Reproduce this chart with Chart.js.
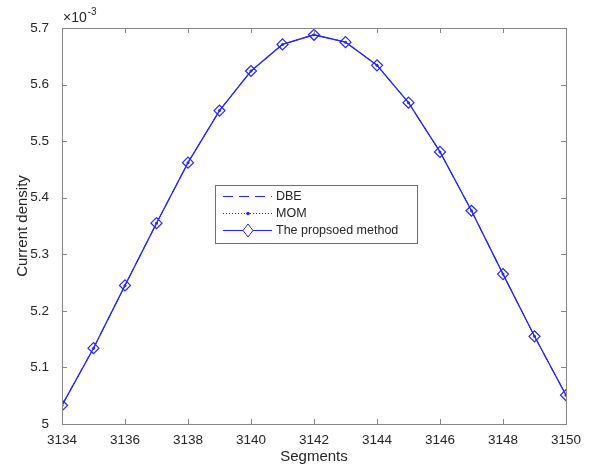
<!DOCTYPE html>
<html>
<head>
<meta charset="utf-8">
<script src="https://cdn.jsdelivr.net/npm/chart.js@4"></script>
<style>
  html, body { margin: 0; padding: 0; background: #fff; }
  #wrap { width: 591px; height: 466px; }
</style>
</head>
<body>
<div id="wrap"><canvas id="chart-current"></canvas></div>
<script>
// segments along the x axis
const segments = [3134, 3135, 3136, 3137, 3138, 3139, 3140, 3141, 3142,
                  3143, 3144, 3145, 3146, 3147, 3148, 3149, 3150];
// current density (x 10^-3)
const dbeValues = [5.033, 5.134, 5.245, 5.355, 5.462, 5.554, 5.624, 5.671, 5.688,
                   5.675, 5.634, 5.568, 5.481, 5.377, 5.265, 5.155, 5.051];
const momValues = [5.033, 5.134, 5.245, 5.355, 5.462, 5.554, 5.624, 5.671, 5.688,
                   5.675, 5.634, 5.568, 5.481, 5.377, 5.265, 5.155, 5.051];
const proposedValues = [5.033, 5.134, 5.245, 5.355, 5.462, 5.554, 5.624, 5.671, 5.688,
                        5.675, 5.634, 5.568, 5.481, 5.377, 5.265, 5.155, 5.051];
const seriesNames = ['DBE', 'MOM', 'The propsoed method'];

const BLUE = '#2424ff';
const AXIS = '#868686';
const TEXT = '#262626';
const FONT = '"Liberation Sans", Arial, sans-serif';

function toPoints(vals) {
  return segments.map((s, i) => ({ x: s, y: vals[i] }));
}

// MATLAB-ish box with inward ticks, exponent label and legend
const matlabBox = {
  id: 'matlabBox',
  afterDatasetsDraw(chart) {
    const { ctx, chartArea: a, scales } = chart;
    ctx.save();
    ctx.strokeStyle = AXIS;
    ctx.lineWidth = 1;
    ctx.strokeRect(Math.round(a.left) + 0.5, Math.round(a.top) + 0.5,
                   Math.round(a.right - a.left), Math.round(a.bottom - a.top));
    const tl = 5;
    ctx.beginPath();
    scales.x.ticks.forEach(t => {
      const px = Math.round(scales.x.getPixelForValue(t.value)) + 0.5;
      ctx.moveTo(px, a.bottom); ctx.lineTo(px, a.bottom - tl);
      ctx.moveTo(px, a.top); ctx.lineTo(px, a.top + tl);
    });
    scales.y.ticks.forEach(t => {
      const py = Math.round(scales.y.getPixelForValue(t.value)) + 0.5;
      ctx.moveTo(a.left, py); ctx.lineTo(a.left + tl, py);
      ctx.moveTo(a.right, py); ctx.lineTo(a.right - tl, py);
    });
    ctx.stroke();

    // exponent
    ctx.fillStyle = TEXT;
    ctx.textBaseline = 'alphabetic';
    ctx.textAlign = 'left';
    ctx.font = '14px ' + FONT;
    ctx.fillText('\u00d710', a.left + 1, a.top - 6);
    const w = ctx.measureText('\u00d710').width;
    ctx.font = '10px ' + FONT;
    ctx.fillText('-3', a.left + 2 + w, a.top - 13);

    // legend
    const lx = 215, ly = 185, lw = 202, lh = 58;
    ctx.fillStyle = '#fff';
    ctx.fillRect(lx, ly, lw, lh);
    ctx.strokeStyle = '#6e6e6e';
    ctx.strokeRect(lx + 0.5, ly + 0.5, lw, lh);
    chart.data.datasets.forEach((ds, i) => {
      const y = ly + 11 + i * 17;
      ctx.strokeStyle = ds.borderColor;
      ctx.lineWidth = 1;
      ctx.setLineDash(ds.borderDash || []);
      ctx.beginPath();
      ctx.moveTo(lx + 8, y + 0.5); ctx.lineTo(lx + 57, y + 0.5);
      ctx.stroke();
      ctx.setLineDash([]);
      if (i === 1) {
        ctx.fillStyle = ds.borderColor;
        ctx.beginPath(); ctx.arc(lx + 33, y + 0.5, 1.8, 0, Math.PI * 2); ctx.fill();
      }
      if (i === 2) {
        ctx.fillStyle = '#fff';
        ctx.beginPath();
        ctx.moveTo(lx + 33, y - 6); ctx.lineTo(lx + 38, y + 0.5);
        ctx.lineTo(lx + 33, y + 7); ctx.lineTo(lx + 28, y + 0.5);
        ctx.closePath(); ctx.fill(); ctx.stroke();
      }
      ctx.fillStyle = TEXT;
      ctx.font = '12.5px ' + FONT;
      ctx.textBaseline = 'middle';
      ctx.fillText(ds.label, lx + 61, y + 1);
    });
    ctx.restore();
  }
};

new Chart(document.getElementById('chart-current'), {
  type: 'line',
  data: {
    datasets: [
      {
        label: seriesNames[0],
        data: toPoints(dbeValues),
        borderColor: BLUE,
        borderWidth: 1,
        borderDash: [10, 6],
        pointRadius: 0
      },
      {
        label: seriesNames[1],
        data: toPoints(momValues),
        borderColor: BLUE,
        borderWidth: 1,
        borderDash: [1, 2],
        pointRadius: 1.5,
        pointBackgroundColor: BLUE,
        pointBorderWidth: 0
      },
      {
        label: seriesNames[2],
        data: toPoints(proposedValues),
        borderColor: BLUE,
        borderWidth: 1.3,
        pointStyle: 'rectRot',
        pointRadius: 5.5,
        pointBackgroundColor: 'rgba(255,255,255,0)',
        pointBorderColor: BLUE,
        pointBorderWidth: 1.2
      }
    ]
  },
  options: {
    responsive: true,
    maintainAspectRatio: false,
    animation: false,
    layout: { padding: { left: 14, top: 28, right: 25, bottom: 0 } },
    plugins: {
      legend: { display: false },
      tooltip: { enabled: false }
    },
    scales: {
      x: {
        type: 'linear',
        min: 3134,
        max: 3150,
        grid: { display: false },
        border: { display: false },
        ticks: {
          stepSize: 2,
          color: TEXT,
          font: { family: FONT, size: 13.5 },
          padding: 0,
          maxRotation: 0,
          callback: v => String(v)
        },
        title: {
          display: true,
          text: 'Segments',
          color: TEXT,
          font: { family: FONT, size: 15 },
          padding: { top: 6, bottom: 0 }
        },
        afterFit: s => { s.height = 42; }
      },
      y: {
        min: 5,
        max: 5.7,
        grid: { display: false },
        border: { display: false },
        ticks: {
          stepSize: 0.1,
          color: TEXT,
          font: { family: FONT, size: 13.5 },
          padding: 5,
          callback: v => String(Math.round(v * 10) / 10)
        },
        title: {
          display: true,
          text: 'Current density',
          color: TEXT,
          font: { family: FONT, size: 15 },
          padding: { top: 0, bottom: 0 }
        },
        afterFit: s => { s.width = 48; }
      }
    }
  },
  plugins: [matlabBox]
});
</script>
</body>
</html>
